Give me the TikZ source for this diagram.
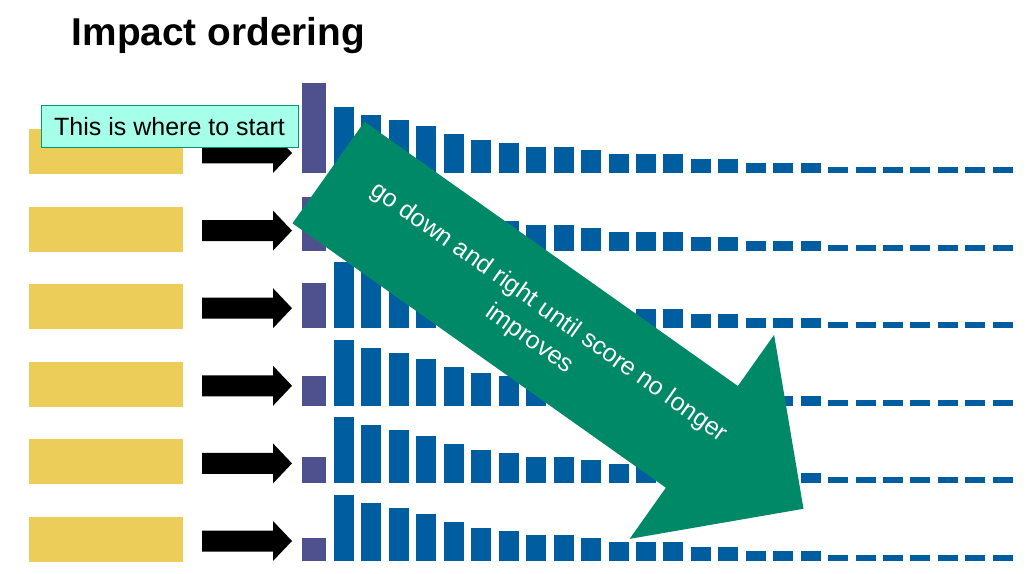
\documentclass[tikz,border=0pt]{standalone}
\usepackage{fontspec}
\setmainfont{Liberation Sans}
\usepackage{tikz}
\usetikzlibrary{calc}
\tikzset{>=latex}
\definecolor{cellyellow}{RGB}{237,205,90}
\definecolor{barblue}{RGB}{0,93,160}
\definecolor{barpurple}{RGB}{79,81,143}
\definecolor{hintgreen}{RGB}{0,137,102}
\definecolor{startfill}{RGB}{166,255,233}
\definecolor{startedge}{RGB}{0,153,115}

\begin{document}
\begin{tikzpicture}[x=0.75pt, y=-0.75pt,
    startbox/.style={draw=startedge, line width=0.75pt, fill=startfill,
      inner sep=0pt, minimum width=192.75pt, minimum height=31.5pt,
      font=\fontsize{18.75}{22}\selectfont},
    hinttext/.style={text=white, align=center, inner sep=0pt,
      font=\fontsize{18.75}{25}\selectfont}]
  \useasboundingbox (0,0) rectangle (1034,574);%
  \node[anchor=base west, inner sep=0pt,
    font=\fontsize{29.1}{34}\selectfont\bfseries] (title) at (71.5,46) {Impact ordering};%
  % one row per query: block, arrow, then the score bars
  \foreach \r/\ph in {0/90, 1/53.5, 2/45, 3/30, 4/26.4, 5/23} {%
    \pgfmathsetmacro{\ybase}{173+77.6*\r}%
    \pgfmathsetmacro{\ymid}{153+77.6*\r}%
    \fill[cellyellow] (29,\ybase-44) rectangle (183,\ybase+1);%
    \fill[black] (202,\ymid-10.5) -- (273,\ymid-10.5) -- (273,\ymid-20)
      -- (292,\ymid) -- (273,\ymid+20) -- (273,\ymid+10.5) -- (202,\ymid+10.5) -- cycle;%
    \fill[barpurple] (302,\ybase-\ph) rectangle (326,\ybase);%
    \foreach \h [count=\i from 0] in {66,58,53,47,39,33,30,26,26,23,19,19,19,14,14,10,10,10,6,6,6,6,6,6,6}
      \fill[barblue] ({334+27.45*\i},\ybase-\h) rectangle ++(20,\h);%
  }
  % big hint arrow
  \fill[hintgreen, shift={(328.5,172.5)}, rotate=-35.3] (0,-62.3) -- (457.5,-62.3)
    -- (457.5,-125) -- (582,0) -- (457.5,125) -- (457.5,62.3) -- (0,62.3) -- cycle;%
  \node[hinttext, rotate=-35.3] (hint) at (539,326)
    {go down and right until score no longer\\improves};%
  \node[startbox] (start) at (169.5,127) {This is where to start};%
\end{tikzpicture}
\end{document}
